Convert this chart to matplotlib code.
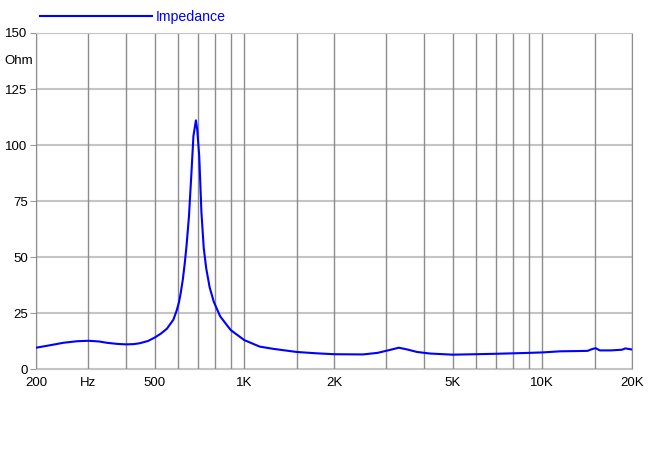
import numpy as np
import matplotlib.pyplot as plt

plt.rcParams['font.family'] = ['Liberation Sans', 'DejaVu Sans']

# Impedance curve
freq = [200, 225, 247, 275, 300, 325, 346, 375, 400, 425, 446, 475, 500, 525,
        550, 578, 592, 603, 612, 622, 631, 640, 652, 665, 675, 688, 695, 706,
        718, 731, 745, 765, 790, 830, 900, 1000, 1126, 1250, 1500, 1750, 2000,
        2500, 2800, 3100, 3300, 3500, 3800, 4200, 5000, 6000, 7000, 8000, 9000,
        10000, 11500, 13000, 14200, 14700, 15100, 15600, 17000, 18500, 19000,
        20000]
ohm = [9.5, 10.7, 11.7, 12.4, 12.6, 12.3, 11.7, 11.2, 11.0, 11.1, 11.5, 12.5,
       14.0, 15.8, 18.0, 22.0, 25.8, 29.5, 34.0, 40.0, 47.0, 55.0, 68.0, 88.0,
       104.0, 111.0, 107.0, 95.0, 70.0, 54.0, 45.0, 36.5, 30.0, 23.5, 17.4,
       12.9, 10.0, 9.0, 7.6, 7.0, 6.6, 6.5, 7.2, 8.6, 9.5, 8.8, 7.6, 6.9, 6.4,
       6.6, 6.8, 7.0, 7.2, 7.4, 7.9, 8.0, 8.1, 8.9, 9.3, 8.3, 8.3, 8.6, 9.2,
       8.7]

grid_freqs = [200, 300, 400, 500, 600, 700, 800, 900, 1000, 1500, 2000, 3000,
              4000, 5000, 6000, 7000, 8000, 9000, 10000, 15000, 20000]
x_ticks = [200, 300, 500, 1000, 2000, 5000, 10000, 20000]
x_labels = ['200', 'Hz', '500', '1K', '2K', '5K', '10K', '20K']
y_ticks = [0, 25, 50, 75, 100, 125, 150]

fig = plt.figure(figsize=(6.5, 4.76), dpi=100)
ax = fig.add_axes([36/650, 107/476, 596/650, 336/476])

ax.set_xscale('log')
ax.set_xlim(200, 20000)
ax.set_ylim(0, 150)

for f in grid_freqs:
    ax.axvline(f, color='#8c8c8c', lw=1.0, zorder=1)
for y in y_ticks:
    ax.axhline(y, color='#c4c4c4', lw=1.5, zorder=0.9)

ax.plot(freq, ohm, color='#0000ff', lw=1.5, zorder=3, label='Impedance')

ax.set_xticks(x_ticks)
ax.set_xticklabels(x_labels)
ax.xaxis.set_minor_locator(plt.NullLocator())
ax.set_yticks(y_ticks)
ax.set_yticklabels([str(v) for v in y_ticks])
ax.text(-0.005, 137.5, 'Ohm', transform=ax.get_yaxis_transform(),
        ha='right', va='center', fontsize=9.5)

ax.tick_params(axis='x', length=0, pad=6, labelsize=9.5)
ax.tick_params(axis='y', length=4, color='#999999', pad=2, labelsize=9.5)

for s in ['top', 'bottom']:
    ax.spines[s].set_color('#c4c4c4')
for s in ['left', 'right']:
    ax.spines[s].set_color('#8c8c8c')

fig.legend(loc='lower left', bbox_to_anchor=(40/650, 452/476), frameon=False,
           handlelength=7.9, handletextpad=0.3, borderpad=0, borderaxespad=0,
           labelcolor='#0000ff', fontsize=10.2)

fig.savefig('out.png', dpi=100)
